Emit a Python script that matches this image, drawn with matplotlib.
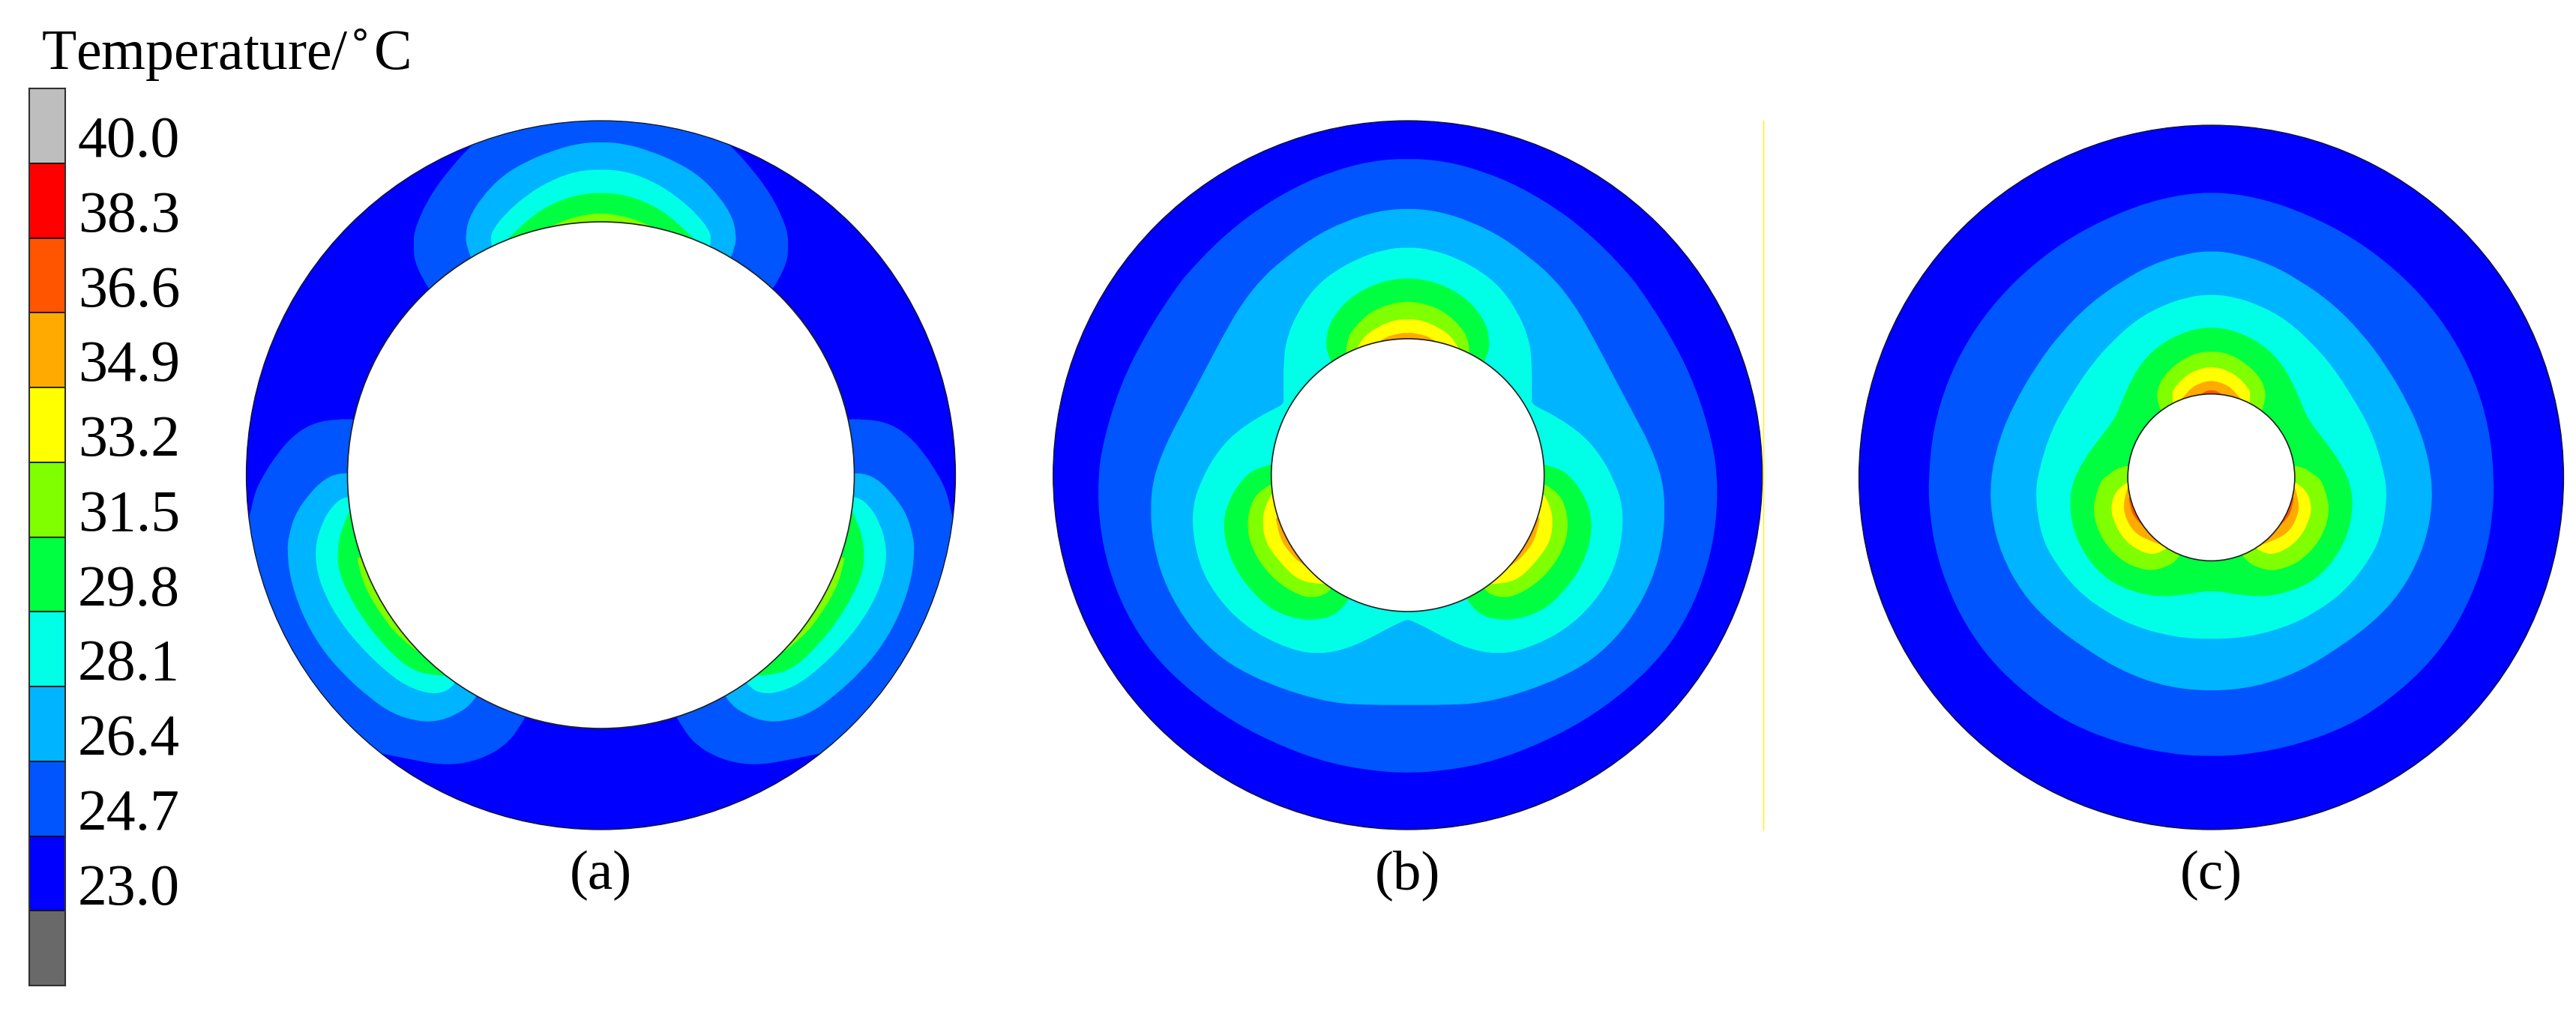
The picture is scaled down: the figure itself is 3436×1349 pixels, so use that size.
import numpy as np
import matplotlib
matplotlib.use('Agg')
import matplotlib.pyplot as plt
from matplotlib.patches import Circle, PathPatch
from matplotlib.path import Path

plt.rcParams['font.family'] = ['Liberation Serif', 'DejaVu Serif']

W, H = 3437, 1349

# colour scale, top to bottom
band_colors = ['#BEBEBE', '#FF0000', '#FF5500', '#FFAA00', '#FFFF00', '#7FFF00',
               '#00FF40', '#00FFE6', '#00B4FF', '#0055FF', '#0000FF', '#696969']
band_labels = ['40.0', '38.3', '36.6', '34.9', '33.2', '31.5',
               '29.8', '28.1', '26.4', '24.7', '23.0', '']
T247, T264, T281, T298, T315, T332, T349, T366 = ('#0055FF', '#00B4FF', '#00FFE6', '#00FF40',
                                                  '#7FFF00', '#FFFF00', '#FFAA00', '#FF5500')

# isotherm outlines, right half only (the left is the mirror image)
# units are 1/3 pixel from the disc centre, y going down
# disc (a): two lobes, the top one and the lower right one
a_top_247 = [(0, -1500), (300, -1500), (430, -1410), (512, -1325), (586, -1249), (683, -1122), (742, -996), (752, -927), (742, -830), (687, -745)]
a_top_264 = [(0, -1334), (97, -1327), (197, -1297), (297, -1257), (397, -1197), (477, -1112), (527, -1032), (542, -962), (537, -912), (520, -872)]
a_top_281 = [(0, -1225), (97, -1217), (197, -1182), (297, -1122), (387, -1042), (432, -982), (442, -952), (437, -918)]
a_top_298 = [(0, -1132), (97, -1122), (197, -1087), (297, -1022), (380, -938)]
a_top_315 = [(0, -1050), (77, -1040), (157, -1017), (225, -985)]
a_low_247 = [(1001, -224), (1074, -224), (1160, -205), (1235, -155), (1295, -85), (1345, -10), (1385, 68), (1403, 158), (1440, 260), (1500, 700),
             (1200, 1400), (1000, 1090), (883, 1113), (760, 1138), (640, 1160), (540, 1153), (450, 1123), (380, 1078), (330, 1018), (303, 968)]
a_low_264 = [(1012, -7), (1050, -9), (1110, 18), (1170, 78), (1225, 158), (1250, 248), (1255, 298), (1245, 408), (1200, 548),
             (1130, 678), (1040, 788), (930, 888), (830, 958), (720, 988), (640, 983), (570, 953), (520, 918), (496, 881)]
a_low_281 = [(1012, 88), (1030, 88), (1075, 123), (1115, 188), (1142, 278), (1140, 368), (1110, 468), (1050, 578), (970, 678),
             (880, 768), (790, 838), (700, 873), (640, 873), (600, 853), (583, 831)]
a_low_298 = [(1005, 143), (1040, 218), (1055, 308), (1048, 388), (1010, 478), (950, 578), (880, 668), (790, 758), (710, 798), (628, 803)]
a_low_315 = [(975, 333), (965, 383), (940, 458), (880, 558), (810, 648), (733, 706)]

# disc (b)
b_247 = [(0, -1269), (150, -1257), (300, -1217), (450, -1154), (600, -1064), (700, -987), (790, -905), (860, -830), (920, -762),
         (1050, -562), (1150, -362), (1220, -132), (1240, 18), (1235, 188), (1200, 368), (1130, 548), (1030, 708), (880, 858),
         (700, 988), (500, 1088), (300, 1158), (100, 1188), (0, 1191)]
b_264 = [(0, -1069), (120, -1057), (250, -1017), (380, -952), (500, -862), (580, -792), (660, -692), (720, -592), (800, -442),
         (900, -252), (970, -122), (1020, 18), (1030, 138), (1020, 268), (980, 418), (900, 568), (800, 688), (680, 778),
         (500, 858), (300, 913), (150, 920), (0, 920)]
b_281 = [(0, -914), (100, -902), (200, -867), (300, -812), (380, -742), (440, -652), (480, -562), (497, -472), (497, -300), (497, -292),
         (503, -284), (510, -277), (600, -232), (700, -162), (770, -82), (825, 18), (860, 118), (860, 238), (830, 368), (770, 478),
         (680, 578), (580, 648), (450, 703), (360, 715), (270, 703), (170, 663), (60, 603), (15, 583), (0, 578)]
b_top_298 = [(0, -790), (100, -777), (200, -732), (270, -672), (315, -602), (328, -537), (322, -487), (303, -448)]
b_top_315 = [(0, -697), (80, -684), (150, -652), (210, -597), (245, -542), (247, -483)]
b_top_332 = [(0, -627), (70, -617), (130, -587), (180, -552), (206, -503)]
b_top_349 = [(0, -572), (50, -564), (90, -552), (122, -530)]
b_low_298 = [(545, -42), (590, -32), (640, -7), (700, 68), (735, 158), (735, 248), (700, 358), (640, 448), (550, 538), (440, 578),
             (350, 578), (290, 558), (250, 518), (233, 490)]
b_low_315 = [(545, 36), (590, 58), (630, 118), (643, 198), (630, 278), (580, 368), (510, 438), (430, 483), (380, 491), (330, 478),
             (305, 453), (296, 436)]
b_low_332 = [(545, 78), (570, 118), (582, 188), (570, 268), (520, 338), (460, 403), (400, 433), (328, 436)]
b_low_349 = [(528, 173), (515, 248), (475, 308), (430, 353), (403, 368)]

# disc (c)
c_247 = [(0, -1143), (197, -1116), (382, -1051), (556, -963), (713, -850), (852, -715), (968, -559), (1056, -384), (1112, -196),
         (1132, 0), (1128, 142), (1100, 312), (1040, 482), (960, 632), (850, 772), (700, 902), (550, 997),
         (350, 1072), (150, 1112), (0, 1120)]
c_264 = [(0, -905), (100, -893), (230, -853), (350, -788), (480, -698), (600, -578), (700, -445), (790, -290), (850, -148),
         (885, 12), (880, 162), (840, 312), (760, 462), (650, 582), (500, 692), (350, 782), (180, 842), (0, 860)]
c_281 = [(0, -731), (100, -718), (200, -683), (300, -628), (400, -538), (480, -448), (560, -328), (640, -188), (690, -28),
         (705, 80), (680, 242), (620, 352), (530, 462), (420, 542), (300, 602), (150, 642), (0, 652)]
c_298 = [(0, -601), (100, -583), (200, -533), (270, -468), (320, -388), (355, -308), (385, -233), (450, -148), (510, -68),
         (555, 22), (568, 112), (550, 222), (500, 322), (430, 402), (340, 452), (220, 482), (100, 472), (40, 460), (0, 459)]
c_top_315 = [(0, -503), (70, -493), (140, -453), (195, -398), (218, -343), (215, -298), (201, -260)]
c_top_332 = [(0, -441), (60, -428), (110, -398), (150, -353), (158, -328), (153, -290)]
c_top_349 = [(0, -386), (50, -373), (90, -348), (122, -305)]
c_top_366 = [(0, -348), (30, -340), (53, -322)]
c_low_315 = [(335, -43), (370, -38), (410, -8), (440, 12), (465, 82), (472, 142), (455, 212), (415, 282), (350, 342), (290, 367),
             (240, 377), (180, 362), (140, 337), (128, 318)]
c_low_332 = [(333, 22), (345, 27), (385, 62), (403, 122), (390, 182), (350, 252), (290, 297), (240, 312), (200, 302), (176, 284)]
c_low_349 = [(335, 47), (353, 102), (345, 162), (310, 222), (260, 252), (203, 272)]
c_low_366 = [(330, 85), (325, 125), (305, 170), (264, 205)]


def mirror_top(pts):
    # outline crossing the axis of symmetry once
    return [(-x, y) for x, y in pts[:0:-1]] + pts


def mirror_loop(pts):
    # outline crossing the axis at the top and the bottom
    return pts + [(-x, y) for x, y in pts[-2:0:-1]]


def curve_verts(p, closed):
    mid = (p[:-1] + p[1:])/2
    if closed:
        last = (p[-1] + p[0])/2
        verts = [last]
        for i in range(len(p)-1):
            verts += [p[i], mid[i]]
        verts += [p[-1], last]
    else:
        verts = [p[0]]
        for i in range(1, len(p)-1):
            verts += [p[i], mid[i] if i < len(p)-2 else p[-1]]
    return verts


def draw_loop(ax, pts, color, clip):
    verts = curve_verts(np.array(pts, dtype=float), True)
    codes = [Path.MOVETO] + [Path.CURVE3]*(len(verts)-1)
    patch = PathPatch(Path(verts, codes), fc=color, ec='none', lw=0)
    ax.add_patch(patch)
    patch.set_clip_path(clip)


def draw_lobe(ax, pts, color, clip):
    # the lobe ends on the inner circle, closing through the centre is hidden by the white hole
    verts = curve_verts(np.array(pts, dtype=float), False)
    codes = [Path.MOVETO] + [Path.CURVE3]*(len(verts)-1)
    verts = verts + [(0, 0), verts[0]]
    codes = codes + [Path.LINETO, Path.LINETO]
    patch = PathPatch(Path(verts, codes), fc=color, ec='none', lw=0)
    ax.add_patch(patch)
    patch.set_clip_path(clip)


def disc_axes(cx, cy):
    ax = fig.add_axes([(cx - 500)/W, 1 - (cy + 500)/H, 1000/W, 1000/H])
    ax.set_xlim(-1500, 1500)
    ax.set_ylim(1500, -1500)
    ax.axis('off')
    return ax


def draw_disc(ax, y0, r_out, r_in, loops, tops, lows, label, label_y):
    base = Circle((0, y0), r_out, fc='#0000FF', ec='none')
    ax.add_patch(base)
    for pts, color in loops:
        draw_loop(ax, mirror_loop(pts), color, base)
    for pts, color in tops:
        draw_lobe(ax, mirror_top(pts), color, base)
    for pts, color in lows:
        draw_lobe(ax, pts, color, base)
        draw_lobe(ax, [(-x, y) for x, y in pts], color, base)
    ax.add_patch(Circle((0, y0), r_out, fc='none', ec='#151515', lw=0.9))
    ax.add_patch(Circle((0, y0), r_in, fc='white', ec='#202020', lw=1.2))
    ax.text(0, label_y, label, ha='center', va='center', fontsize=54)


fig = plt.figure(figsize=(W/100, H/100), dpi=100)

# colour bar
cb = fig.add_axes([39/W, 1 - 1315/H, 48/W, (1315 - 118)/H])
cb.barh(range(len(band_colors)), 1, height=1, left=0, color=band_colors, edgecolor='#101010', linewidth=1.2)
cb.set_xlim(0, 1)
cb.set_ylim(len(band_colors) - 0.5, -0.5)
cb.yaxis.tick_right()
cb.set_yticks(np.arange(len(band_labels) - 1) + 0.14, band_labels[:-1])
cb.tick_params(axis='y', length=0, pad=12, labelsize=56)
cb.set_xticks([])
for s in cb.spines.values():
    s.set_linewidth(1.5)
    s.set_color('#303030')
fig.text(55/W, 1 - 74/H, 'Temperature/$^{\\circ}$C', fontsize=54.5, ha='left', va='center')

ax_a = disc_axes(801.5, 634)
draw_disc(ax_a, 0, 1419, 1014,
          [],
          [(a_top_247, T247), (a_top_264, T264), (a_top_281, T281), (a_top_298, T298), (a_top_315, T315)],
          [(a_low_247, T247), (a_low_264, T264), (a_low_281, T281), (a_low_298, T298), (a_low_315, T315)],
          '(a)', 1602)

ax_b = disc_axes(1877.7, 634)
draw_disc(ax_b, 0, 1419, 546,
          [(b_247, T247), (b_264, T264), (b_281, T281)],
          [(b_top_298, T298), (b_top_315, T315), (b_top_332, T332), (b_top_349, T349)],
          [(b_low_298, T298), (b_low_315, T315), (b_low_332, T332), (b_low_349, T349)],
          '(b)', 1602)
ax_b.plot([1424, 1424], [-1420, 1420], color='#FFF200', lw=1.0)

ax_c = disc_axes(2949.5, 636)
draw_disc(ax_c, 3, 1410, 334,
          [(c_247, T247), (c_264, T264), (c_281, T281), (c_298, T298)],
          [(c_top_315, T315), (c_top_332, T332), (c_top_349, T349), (c_top_366, T366)],
          [(c_low_315, T315), (c_low_332, T332), (c_low_349, T349), (c_low_366, T366)],
          '(c)', 1596)

fig.savefig('out.png', dpi=100)
